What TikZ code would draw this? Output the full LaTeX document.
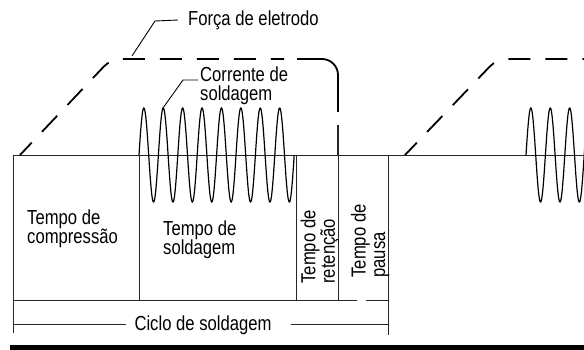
\documentclass[tikz,border=0pt]{standalone}
\usepackage{fontspec}
\setmainfont{Liberation Sans}[FakeStretch=0.82]
\begin{document}
\begin{tikzpicture}[x=1pt,y=-1pt,
  thinline/.style={line width=0.9pt, black!85},
  forceline/.style={line width=1.8pt, black, dash pattern=on 22pt off 15pt, dash phase=5pt},
  solidforce/.style={line width=1.8pt, black},
  waveline/.style={line width=1.2pt, black},
  leader/.style={line width=0.9pt, black},
  txt/.style={inner sep=0pt, font=\fontsize{20.3}{19.5}\selectfont, align=left}]
\useasboundingbox (0,0) rectangle (584,350);
% baseline and boxes
\draw[thinline] (13,155) -- (584,155);
\draw[thinline] (13,155) -- (13,333);
\draw[thinline] (139,155) -- (139,300);
\draw[thinline] (296,155) -- (296,300);
\draw[thinline] (338,155) -- (338,300);
\draw[thinline] (388,155) -- (388,335);
\draw[thinline] (13,300) -- (357,300);
\draw[thinline] (366,300) -- (388,300);
% force curves
\draw[forceline, rounded corners=10pt] (20,155) -- (111,59) -- (284,59);
\draw[solidforce, rounded corners=16pt] (297,59) -- (338,59) -- (338,112);
\draw[thinline, line width=1.2pt] (338,125) -- (338,155);
\draw[forceline, rounded corners=10pt] (405,155) -- (497,59) -- (584,59);
% currents
\draw[waveline] plot[domain=139:294.2, samples=400, smooth] (\x, {155 - 47*sin(18.557*(\x-139))});
\begin{scope}
\clip (500,0) rectangle (584,350);
\draw[waveline] plot[domain=526:590, samples=200, smooth] (\x, {155 - 47*sin(18.557*(\x-526))});
\end{scope}
% labels
\node[txt, anchor=west] (forca) at (188,20) {Força de eletrodo};
\coordinate (fa) at (132,56);
\coordinate (fb) at (155,21);
\draw[leader] (fa) -- (fb) -- ([xshift=-10pt]forca.west);
\node[txt, anchor=west] (corr) at (200,86) {Corrente de\\soldagem};
\coordinate (ca) at (163,108);
\coordinate (cb) at (183,80);
\coordinate (cc) at (198,80);
\draw[leader] (ca) -- (cb) -- (cc);
\node[txt, anchor=west] (comp) at (27,229) {Tempo de\\compressão};
\node[txt, anchor=west] (sold) at (163,240) {Tempo de\\soldagem};
\node[txt, rotate=90] (ret) at (320,247) {Tempo de\\retenção};
\node[txt, rotate=90] (pausa) at (370,241) {Tempo de\\pausa};
\node[txt] (ciclo) at (203,325) {Ciclo de soldagem};
\coordinate (cl) at (13,324);
\coordinate (cr) at (388,324);
\draw[thinline] (cl) -- ([xshift=-8pt]ciclo.west |- cl);
\draw[thinline] ([xshift=19pt]ciclo.east |- cr) -- (cr);
% bottom bar
\fill[black] (10,345) rectangle (584,350);
\end{tikzpicture}
\end{document}
